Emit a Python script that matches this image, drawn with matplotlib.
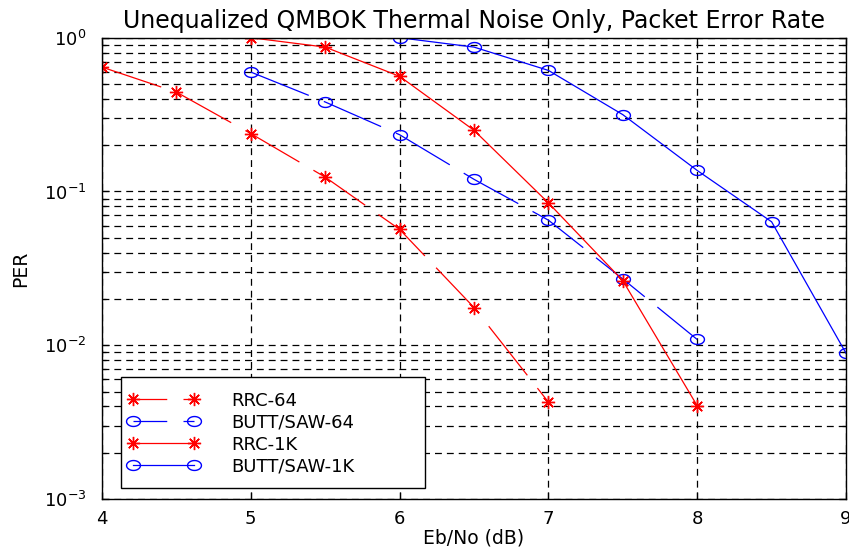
import matplotlib
matplotlib.use("Agg")
import numpy as np
import matplotlib.pyplot as plt
from matplotlib.path import Path
from matplotlib.lines import Line2D
from matplotlib.patches import Rectangle
from matplotlib.ticker import LogLocator, FixedLocator, NullFormatter

plt.rcParams['font.family'] = ['DejaVu Sans']
plt.rcParams['mathtext.fontset'] = 'dejavusans'

title = "Unequalized QMBOK Thermal Noise Only, Packet Error Rate"
xlabel = "Eb/No (dB)"
ylabel = "PER"

x_rrc64 = [4, 4.5, 5, 5.5, 6, 6.5, 7]
y_rrc64 = [0.644, 0.443, 0.238, 0.124, 0.0567, 0.0176, 0.00427]

x_butt64 = [5, 5.5, 6, 6.5, 7, 7.5, 8]
y_butt64 = [0.598, 0.382, 0.234, 0.120, 0.0651, 0.0270, 0.0109]

x_rrc1k = [5, 5.5, 6, 6.5, 7, 7.5, 8]
y_rrc1k = [1.0, 0.869, 0.561, 0.250, 0.0843, 0.0263, 0.00404]

x_butt1k = [6, 6.5, 7, 7.5, 8, 8.5, 9]
y_butt1k = [1.0, 0.869, 0.613, 0.316, 0.137, 0.0635, 0.00887]

labels = ["RRC-64", "BUTT/SAW-64", "RRC-1K", "BUTT/SAW-1K"]

# horizontally stretched circle marker (as in the reference image)
t = np.linspace(0, 2 * np.pi, 41)
ellipse = Path(np.column_stack([1.4 * np.cos(t), np.sin(t)]), closed=True)
star = (8, 2, 0)

fig = plt.figure(figsize=(8.49, 5.58), dpi=100)
ax = fig.add_axes([0.1201, 0.1057, 0.9965 - 0.1201, 0.9324 - 0.1057])

lw = 0.9
dash = (0, (50, 13))
styles = [
    dict(color='red', ls=dash, marker=star, ms=9.5, mew=1.0),
    dict(color='blue', ls=dash, marker=ellipse, ms=10, mfc='none', mew=1.0),
    dict(color='red', ls='-', marker=star, ms=9.5, mew=1.0),
    dict(color='blue', ls='-', marker=ellipse, ms=10, mfc='none', mew=1.0),
]
series = [(x_rrc64, y_rrc64), (x_butt64, y_butt64), (x_rrc1k, y_rrc1k), (x_butt1k, y_butt1k)]
for (xs, ys), st, lab in zip(series, styles, labels):
    ax.plot(xs, ys, lw=lw, label=lab, **st)

ax.set_yscale('log')
ax.set_xlim(4, 9)
ax.set_ylim(1e-3, 1)
ax.xaxis.set_major_locator(FixedLocator([4, 5, 6, 7, 8, 9]))
ax.yaxis.set_major_locator(LogLocator(base=10, numticks=10))
ax.yaxis.set_minor_locator(LogLocator(base=10, subs=range(2, 10), numticks=20))
ax.yaxis.set_minor_formatter(NullFormatter())

gls = (0, (5.5, 4))
ax.grid(True, which='major', axis='both', color='black', ls=gls, lw=0.9)
ax.grid(True, which='minor', axis='y', color='black', ls=gls, lw=0.9)

ax.tick_params(which='both', direction='in', top=True, right=True, labelsize=13, width=0.9, colors='black')
ax.tick_params(which='major', length=5)
ax.tick_params(which='minor', length=3)
ax.tick_params(axis='x', pad=8)
ax.tick_params(axis='y', pad=11)
for s in ax.spines.values():
    s.set_linewidth(1.0)
    s.set_color('black')

ax.set_title(title, fontsize=17, pad=7)
ax.set_xlabel(xlabel, fontsize=13.5, labelpad=0)
ax.set_ylabel(ylabel, fontsize=13.5, labelpad=10)

# legend box (drawn separately so that its padding matches the reference)
box = Rectangle((0.0255, 0.0238), 0.4086, 0.2406, transform=ax.transAxes,
                facecolor='white', edgecolor='black', lw=1.0, zorder=4.5)
ax.add_patch(box)

# legend entries: the dashed ones show a dash and a gap between the two markers
leg_styles = [dict(st) for st in styles]
leg_styles[0]['ls'] = (0, (27, 13))
leg_styles[1]['ls'] = (0, (27, 13))
handles = [Line2D([], [], lw=lw, **st) for st in leg_styles]

leg = ax.legend(handles, labels, loc='upper left', bbox_to_anchor=(0.0255, 0.2471),
                fontsize=13, frameon=False, numpoints=2, handlelength=4.0,
                handletextpad=1.75, labelspacing=0.22, borderpad=0.37, borderaxespad=0)
leg.set_zorder(5)

fig.savefig("out.png", dpi=100, facecolor='white')
